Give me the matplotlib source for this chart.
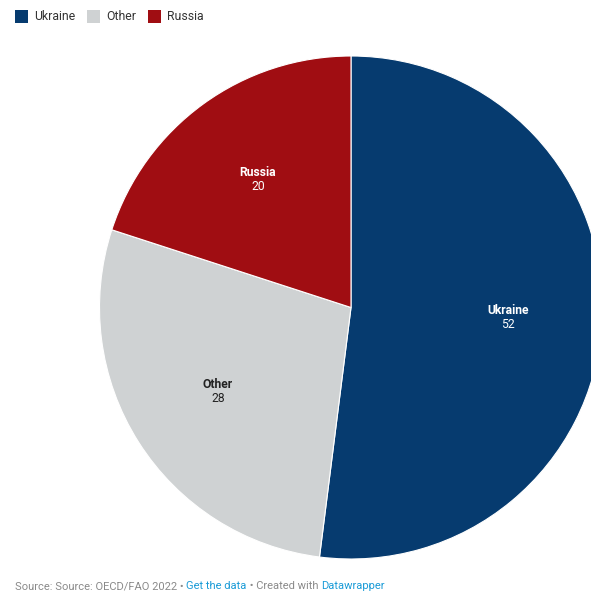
import matplotlib.pyplot as plt
from matplotlib.patches import Rectangle

labels = ["Ukraine", "Other", "Russia"]
values = [52, 28, 20]
colors = ["#063b6f", "#cfd2d3", "#a00d12"]
text_colors = ["white", "#222222", "white"]

plt.rcParams['font.family'] = ['Roboto', 'DejaVu Sans']

W, H = 591, 594
fig = plt.figure(figsize=(W / 100, H / 100), dpi=100)
ax = fig.add_axes([0, 0, 1, 1])

cx, cy, r = 351, H - 307.5, 251.5
wedges, _ = ax.pie(values, colors=colors, startangle=90, counterclock=False,
                   center=(cx, cy), radius=r, frame=True,
                   wedgeprops=dict(edgecolor="white", linewidth=0.8))
ax.set_xlim(0, W)
ax.set_ylim(0, H)
ax.axis("off")

# slice labels
label_pos = [(508, 310), (218, 384), (258, 172)]
for (x, y), name, v, tc in zip(label_pos, labels, values, text_colors):
    ax.text(x, H - y, name, ha="center", va="center", fontsize=8.7,
            fontweight="bold", color=tc)
    ax.text(x, H - y - 15, str(v), ha="center", va="center", fontsize=8.7,
            color=tc)

# legend
renderer = fig.canvas.get_renderer()
lx = 15
for name, c in zip(labels, colors):
    ax.add_patch(Rectangle((lx, H - 23), 13, 13, color=c, lw=0))
    t = ax.text(lx + 19, H - 16.5, name, ha="left", va="center",
                fontsize=8.8, color="#333333")
    lx = t.get_window_extent(renderer).x1 + 12

# footer
parts = [("Source: Source: OECD/FAO 2022 • ", "#8a8a8a"),
         ("Get the data", "#1a9bd7"),
         (" • Created with ", "#8a8a8a"),
         ("Datawrapper", "#1a9bd7")]
fx = 15
for s, c in parts:
    t = ax.text(fx, H - 586, s, ha="left", va="center", fontsize=8.0, color=c)
    fx = t.get_window_extent(renderer).x1

fig.savefig("out.png", dpi=100)
